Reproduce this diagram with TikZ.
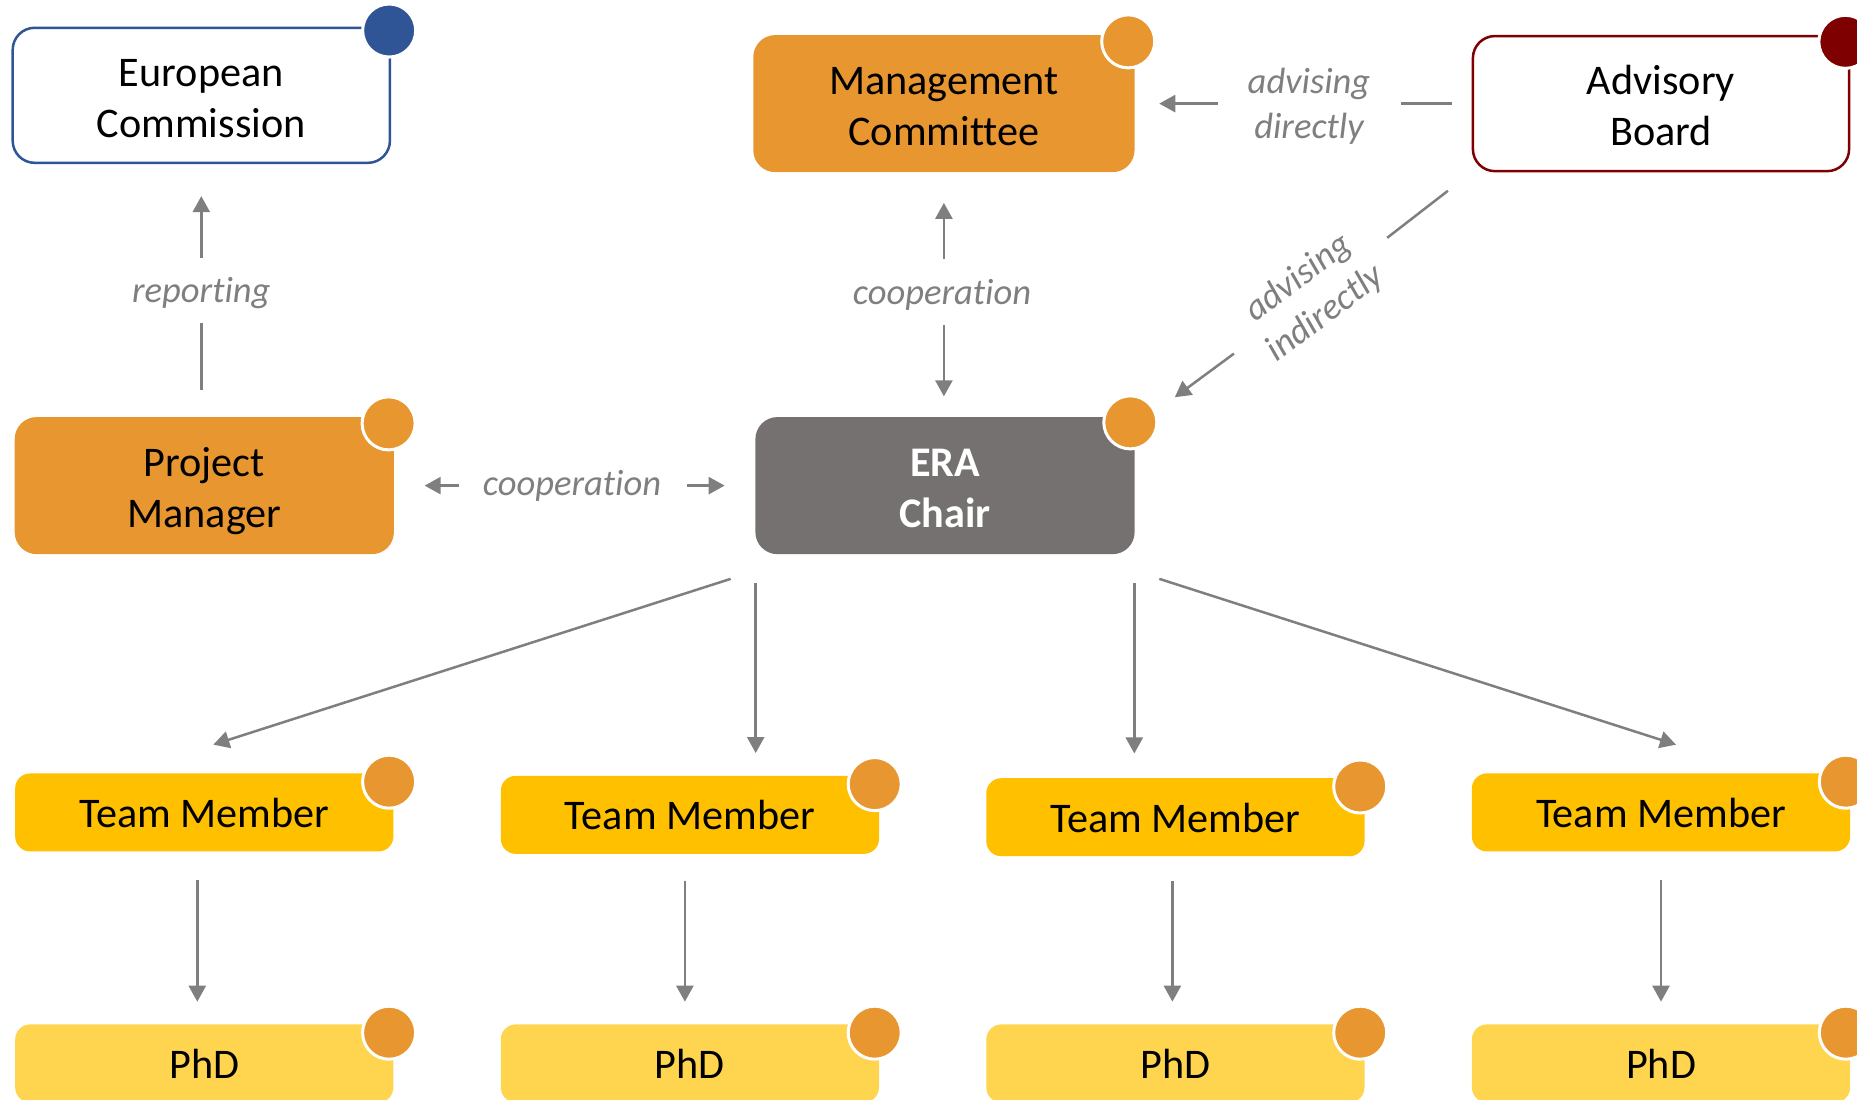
\documentclass[tikz,border=0pt]{standalone}
\usepackage{fontspec}
\setmainfont[Ligatures=NoCommon]{Carlito}
\usetikzlibrary{arrows.meta}
\definecolor{boxorange}{HTML}{E79630}
\definecolor{boxgrey}{HTML}{767171}
\definecolor{teamyellow}{HTML}{FFC000}
\definecolor{phdyellow}{HTML}{FFD550}
\definecolor{linegrey}{HTML}{7F7F7F}
\definecolor{ecblue}{HTML}{2F5597}
\definecolor{abred}{HTML}{7F0000}
\tikzset{
    bigbox/.style={rounded corners=0.22cm, minimum width=3.79cm, minimum height=1.37cm, align=center,
        font=\fontsize{12}{14.5}\selectfont, inner sep=0pt, text height=0.84cm, text depth=0pt},
    smallbox/.style={rounded corners=0.15cm, minimum width=3.78cm, minimum height=0.78cm,
        font=\fontsize{12}{14.5}\selectfont, inner sep=0pt, text height=0.3cm, text depth=0pt},
    dot/.style={circle, minimum size=0.53cm, inner sep=0pt, draw=white, line width=0.03cm},
    note/.style={text=linegrey, align=center, inner sep=0pt,
        font=\fontsize{10.4}{12.8}\selectfont\itshape},
    link/.style={linegrey, line width=0.025cm},
}

\begin{document}
\begin{tikzpicture}[x=0.01cm, y=-0.01cm, >={Triangle[length=0.16cm,width=0.17cm]}]
    %% Background
    \useasboundingbox (0,0) rectangle (1857,1099);

    %% Top row
    \node[bigbox, draw=ecblue, line width=0.025cm, fill=white, minimum width=3.77cm, minimum height=1.35cm] (ec) at (201.3,95.3) {European\\Commission};
    \node[bigbox, fill=boxorange, minimum width=3.81cm] (mc) at (943.9,103.6) {Management\\Committee};
    \node[bigbox, draw=abred, line width=0.025cm, fill=white, minimum width=3.76cm, minimum height=1.35cm] (ab) at (1661,103.6) {Advisory\\Board};

    %% Middle row
    \node[bigbox, fill=boxorange] (pm) at (204.3,485.6) {Project\\Manager};
    \node[bigbox, fill=boxgrey, text=white, font=\fontsize{12}{14.5}\selectfont\bfseries] (era) at (945,485.6) {ERA\\Chair};

    %% Team members
    \node[smallbox, fill=teamyellow] (tma) at (204.3,812.4) {Team Member};
    \node[smallbox, fill=teamyellow] (tmb) at (689.9,814.8) {Team Member};
    \node[smallbox, fill=teamyellow] (tmc) at (1175.4,817.2) {Team Member};
    \node[smallbox, fill=teamyellow] (tmd) at (1661,812.4) {Team Member};

    %% PhDs
    \node[smallbox, fill=phdyellow] (phda) at (204.3,1063.4) {PhD};
    \node[smallbox, fill=phdyellow] (phdb) at (689.9,1063.4) {PhD};
    \node[smallbox, fill=phdyellow] (phdc) at (1175.4,1063.4) {PhD};
    \node[smallbox, fill=phdyellow] (phdd) at (1661,1063.4) {PhD};

    %% Dots on the corners
    \node[dot, fill=ecblue] (ecdot) at ([shift={(-2,4)}]ec.north east) {};
    \node[dot, fill=boxorange] (mcdot) at ([shift={(-7,7)}]mc.north east) {};
    \node[dot, fill=abred] (abdot) at ([shift={(-5,7)}]ab.north east) {};
    \node[dot, fill=boxorange] (pmdot) at ([shift={(-6,7)}]pm.north east) {};
    \node[dot, fill=boxorange] (eradot) at ([shift={(-5,6)}]era.north east) {};
    \node[dot, fill=boxorange] (tmadot) at ([shift={(-5,9)}]tma.north east) {};
    \node[dot, fill=boxorange] (tmbdot) at ([shift={(-5,9)}]tmb.north east) {};
    \node[dot, fill=boxorange] (tmcdot) at ([shift={(-5,9)}]tmc.north east) {};
    \node[dot, fill=boxorange] (tmddot) at ([shift={(-5,9)}]tmd.north east) {};
    \node[dot, fill=boxorange] (phdadot) at ([shift={(-5,9)}]phda.north east) {};
    \node[dot, fill=boxorange] (phdbdot) at ([shift={(-5,9)}]phdb.north east) {};
    \node[dot, fill=boxorange] (phdcdot) at ([shift={(-5,9)}]phdc.north east) {};
    \node[dot, fill=boxorange] (phdddot) at ([shift={(-5,9)}]phdd.north east) {};

    %% Notes
    \node[note] (reporting) at (201.3,293) {reporting};
    \node[note] (coopup) at (942,295) {cooperation};
    \node[note] (coopside) at (572,485.5) {cooperation};
    \node[note] (direct) at (1309,106.5) {advising\\directly};
    \node[note, rotate=37] (indirect) at (1312,296) {advising\\indirectly};

    %% Connectors through the notes
    \draw[link, shorten <=0.26cm, shorten >=0.3cm] (ec.south |- pm.north) -- (reporting.center);
    \draw[link, ->, shorten <=0.35cm, shorten >=0.32cm] (reporting.center) -- (ec.south);
    \draw[link, ->, shorten <=0.36cm, shorten >=0.3cm] (mc.south |- coopup.center) -- (mc.south);
    \draw[link, ->, shorten <=0.3cm, shorten >=0.2cm] (mc.south |- coopup.center) -- (mc.south |- era.north);
    \draw[link, ->, shorten <=1.125cm, shorten >=0.3cm] (coopside.center |- pm.east) -- (pm.east);
    \draw[link, ->, shorten <=1.15cm, shorten >=0.3cm] (coopside.center |- era.west) -- (era.west);
    \draw[link, ->, shorten <=0.91cm, shorten >=0.24cm] (direct.center |- mc.east) -- (mc.east);
    \draw[link, shorten <=0.92cm, shorten >=0.2cm] (direct.center |- ab.west) -- (ab.west);
    \draw[link, shorten <=0.3cm, shorten >=0.95cm] (ab.south west) -- (indirect.center);
    \draw[link, ->, shorten <=0.97cm, shorten >=0.49cm] (indirect.center) -- ([yshift=-0.1cm]era.north east);

    %% From the chair to the team
    \draw[link, ->] ([shift={(-24,24)}]era.south west) -- ([shift={(9,-28)}]tma.north);
    \draw[link, ->, shorten <=0.28cm, shorten >=0.22cm] ([xshift=0.01cm]era.south west) -- ([xshift=0.01cm]era.south west |- tmb.north);
    \draw[link, ->, shorten <=0.28cm, shorten >=0.24cm] ([xshift=-0.01cm]era.south east) -- ([xshift=-0.01cm]era.south east |- tmc.north);
    \draw[link, ->] ([shift={(24,24)}]era.south east) -- ([shift={(15,-28)}]tmd.north);

    %% From each team member to the PhD
    \draw[link, ->, shorten <=0.28cm, shorten >=0.22cm] ([xshift=-0.07cm]tma.south) -- ([xshift=-0.07cm]phda.north);
    \draw[link, ->, shorten <=0.26cm, shorten >=0.22cm] ([xshift=-0.05cm]tmb.south) -- ([xshift=-0.05cm]phdb.north);
    \draw[link, ->, shorten <=0.24cm, shorten >=0.22cm] ([xshift=-0.03cm]tmc.south) -- ([xshift=-0.03cm]phdc.north);
    \draw[link, ->, shorten <=0.28cm, shorten >=0.22cm] (tmd.south) -- (phdd.north);
\end{tikzpicture}
\end{document}
